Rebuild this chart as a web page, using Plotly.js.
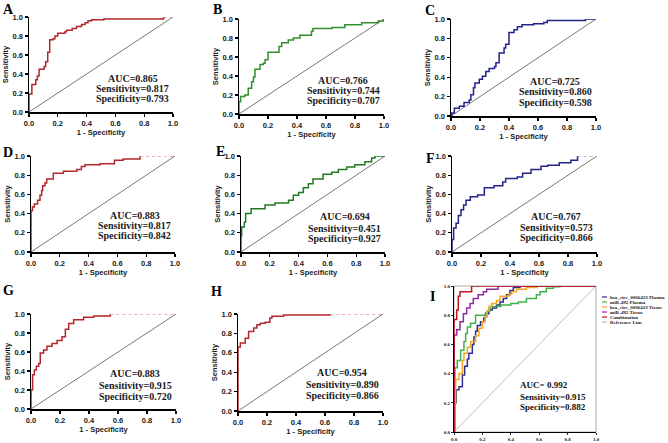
<!DOCTYPE html>
<html><head><meta charset="utf-8">
<script src="https://cdn.plot.ly/plotly-3.0.1.min.js"></script>
<style>body{margin:0;background:#fff;} #chart{width:668px;height:443px;}</style>
</head><body><div id="chart"></div>
<script>
// ---------- data (fpr = 1 - Specificity, tpr = Sensitivity) ----------
const tickVals = [0, 0.2, 0.4, 0.6, 0.8, 1.0];
const tickLabels = ['0.0', '0.2', '0.4', '0.6', '0.8', '1.0'];
const refX = [0, 1];
const refY = [0, 1];

const fprA = [0,0,0.02,0.047,0.058,0.07,0.105,0.116,0.13,0.144,0.167,0.18,0.2,0.25,0.26,0.3,0.33,0.365,0.39,0.41,0.435,0.52,0.935];
const tprA = [0,0.19,0.29,0.34,0.38,0.45,0.48,0.53,0.63,0.76,0.77,0.8,0.83,0.845,0.86,0.88,0.9,0.92,0.94,0.96,0.97,0.98,1.0];
const fprB = [0,0,0.011,0.04,0.064,0.087,0.1,0.11,0.145,0.168,0.18,0.2,0.276,0.294,0.34,0.375,0.42,0.5,0.51,0.64,0.73,0.846,0.96,1];
const tprB = [0,0.13,0.185,0.2,0.27,0.34,0.39,0.47,0.52,0.535,0.57,0.65,0.71,0.75,0.78,0.8,0.83,0.87,0.9,0.91,0.94,0.96,0.98,1];
const fprC = [0,0.005,0.023,0.057,0.09,0.126,0.137,0.155,0.165,0.195,0.217,0.24,0.263,0.3,0.31,0.332,0.366,0.377,0.4,0.435,0.458,0.49,0.57,0.64,0.664,0.927,1];
const tprC = [0,0.03,0.08,0.1,0.14,0.165,0.22,0.29,0.34,0.38,0.41,0.46,0.49,0.51,0.55,0.65,0.7,0.74,0.86,0.89,0.92,0.94,0.95,0.965,0.985,1,1];
const fprD = [0,0,0.01,0.023,0.046,0.0625,0.074,0.081,0.097,0.109,0.155,0.225,0.317,0.35,0.375,0.48,0.58,0.64,0.757];
const tprD = [0,0.43,0.47,0.5,0.54,0.59,0.64,0.69,0.72,0.76,0.82,0.84,0.86,0.89,0.91,0.92,0.955,0.97,1];
const fprE = [0,0,0.005,0.023,0.032,0.07,0.167,0.236,0.33,0.363,0.4,0.433,0.468,0.5,0.57,0.63,0.676,0.734,0.79,0.86,0.907,0.93,1];
const tprE = [0,0.17,0.26,0.31,0.4,0.45,0.49,0.51,0.54,0.59,0.62,0.67,0.71,0.76,0.81,0.83,0.86,0.885,0.91,0.94,0.98,1,1];
const fprF = [0,0,0.011,0.028,0.044,0.062,0.08,0.097,0.126,0.177,0.223,0.29,0.35,0.37,0.45,0.487,0.545,0.614,0.66,0.74,0.82,0.866];
const tprF = [0,0.13,0.25,0.3,0.38,0.44,0.49,0.54,0.575,0.593,0.67,0.69,0.73,0.765,0.78,0.82,0.86,0.893,0.903,0.93,0.955,1];
const fprG = [0,0,0.011,0.023,0.037,0.053,0.064,0.087,0.11,0.145,0.18,0.214,0.237,0.26,0.294,0.363,0.432,0.547];
const tprG = [0,0.2,0.36,0.41,0.45,0.48,0.59,0.62,0.66,0.69,0.72,0.76,0.84,0.9,0.94,0.965,0.98,1];
const fprH = [0,0,0.016,0.05,0.073,0.108,0.13,0.154,0.188,0.22,0.234,0.314,0.635];
const tprH = [0,0.66,0.7,0.75,0.82,0.855,0.89,0.905,0.915,0.96,0.976,0.99,1];

// Panel I
const fprIplasmaCirc = [0,0.005,0.016,0.035,0.059,0.075,0.094,0.105,0.129,0.14,0.152,0.164,0.187,0.21,0.222,0.246,0.27,0.3,0.324,0.347,0.371,0.394,0.418,0.465,1];
const tprIplasmaCirc = [0,0.2,0.29,0.31,0.39,0.45,0.5,0.54,0.6,0.65,0.69,0.73,0.755,0.78,0.81,0.835,0.85,0.87,0.89,0.915,0.94,0.97,0.99,1,1];
const fprIplasmaMir = [0,0.007,0.023,0.047,0.07,0.082,0.094,0.117,0.152,0.222,0.234,0.254,0.33,0.4,0.453,0.51,0.58,0.606,0.65,0.7,0.746,1];
const tprIplasmaMir = [0,0.44,0.49,0.56,0.62,0.675,0.72,0.745,0.8,0.815,0.83,0.86,0.87,0.88,0.89,0.915,0.94,0.96,0.984,0.995,1,1];
const fprItissueCirc = [0,0.005,0.012,0.035,0.059,0.07,0.094,0.117,0.152,0.176,0.2,0.22,0.234,0.246,0.265,0.3,0.324,0.383,0.406,0.44,0.51,0.585,1];
const tprItissueCirc = [0,0.2,0.36,0.4,0.49,0.54,0.58,0.62,0.66,0.71,0.755,0.79,0.83,0.86,0.88,0.9,0.93,0.945,0.96,0.977,0.99,1,1];
const fprItissueMir = [0,0,0.019,0.042,0.066,0.089,0.113,0.136,0.17,0.207,0.23,0.31,1];
const tprItissueMir = [0,0.665,0.7,0.755,0.81,0.85,0.88,0.915,0.94,0.96,0.977,1,1];
const fprIcomb = [0,0,0.019,0.03,0.042,0.124,1];
const tprIcomb = [0,0.77,0.835,0.93,0.96,1,1];

const legendNames = ['hsa_circ_0006423 Plasma','miR-492 Plasma','hsa_circ_0006423 Tissue','miR-492 Tissue','Combination','Reference Line'];

const statsAUC  = ['AUC=0.865','AUC=0.766','AUC=0.725','AUC=0.883','AUC=0.694','AUC=0.767','AUC=0.883','AUC=0.954'];
const statsSens = ['Sensitivity=0.817','Sensitivity=0.744','Sensitivity=0.860','Sensitivity=0.817','Sensitivity=0.451','Sensitivity=0.573','Sensitivity=0.915','Sensitivity=0.890'];
const statsSpec = ['Specificity=0.793','Specificity=0.707','Specificity=0.598','Specificity=0.842','Specificity=0.927','Specificity=0.866','Specificity=0.720','Specificity=0.866'];
const statsI = ['AUC= 0.992','Sensitivity=0.915','Specificity=0.882'];
const panelLetters = ['A','B','C','D','E','F','G','H','I'];

// ---------- layout helpers ----------
const W = 668, H = 443;
const RED = '#b3262b', GREEN = '#2f8f2c', GREEN2 = '#237a22', BLUE = '#23238c';
const RED_T = '#e59a9a', BLUE_T = '#9a9ad8';
const panels = [
  {fpr: fprA, tpr: tprA, color: RED,   tail: RED_T, box: [29,173,17,112],  txt: [0.35,0.245,0.14]},
  {fpr: fprB, tpr: tprB, color: GREEN, tail: null,  box: [239,384,19,114], txt: [0.35,0.245,0.14]},
  {fpr: fprC, tpr: tprC, color: BLUE,  tail: null,  box: [451,596,19,116], txt: [0.36,0.25,0.14]},
  {fpr: fprD, tpr: tprD, color: RED,   tail: RED_T, box: [31,175,156,252], txt: [0.385,0.28,0.175]},
  {fpr: fprE, tpr: tprE, color: GREEN2,tail: null,  box: [241,385,156,252],txt: [0.37,0.25,0.14]},
  {fpr: fprF, tpr: tprF, color: BLUE,  tail: BLUE_T,box: [452,597,156,252],txt: [0.375,0.26,0.155]},
  {fpr: fprG, tpr: tprG, color: RED,   tail: RED_T, box: [31,176,314,409], txt: [0.37,0.245,0.13]},
  {fpr: fprH, tpr: tprH, color: RED,   tail: RED_T, box: [238,383,314,411],txt: [0.395,0.27,0.155]}
];
const boxI = [454,596,286,432];
const letterPos = [[8,9],[217,9],[430,11],[8,152],[220,151],[430,158],[8,290],[216,291],[432,296]];

const data = [];
const layout = {
  width: W, height: H, autosize: false,
  margin: {l:0, r:0, t:0, b:0},
  paper_bgcolor: '#fff', plot_bgcolor: 'rgba(0,0,0,0)',
  showlegend: false,
  annotations: [], shapes: []
};
const tickFont = {family: 'Liberation Sans, Arial, sans-serif', size: 7.5, color: '#1a1a1a', weight: 'bold'};
const titleFont = {family: 'Liberation Sans, Arial, sans-serif', size: 7.5, color: '#1a1a1a', weight: 'bold'};
const statFont = {family: 'Liberation Serif, Times New Roman, serif', size: 10, color: '#1a1a1a', weight: 'bold'};

function axisCommon(domain) {
  return {
    domain: domain, range: [0, 1], tickvals: tickVals, ticktext: tickLabels,
    ticks: 'outside', ticklen: 3, tickwidth: 1.2, tickcolor: '#000',
    showline: true, linewidth: 1.5, linecolor: '#000',
    showgrid: false, zeroline: false, fixedrange: true,
    tickfont: tickFont
  };
}

panels.forEach((p, i) => {
  const n = i + 1;
  const xa = n === 1 ? 'x' : 'x' + n, ya = n === 1 ? 'y' : 'y' + n;
  const [x0, x1, y1, y0] = p.box;
  const xax = axisCommon([x0 / W, x1 / W]);
  xax.anchor = ya;
  xax.title = {text: '1 - Specificity', font: titleFont, standoff: 3};
  const yax = axisCommon([1 - y0 / H, 1 - y1 / H]);
  yax.anchor = xa;
  yax.title = {text: 'Sensitivity', font: titleFont, standoff: 3};
  layout[n === 1 ? 'xaxis' : 'xaxis' + n] = xax;
  layout[n === 1 ? 'yaxis' : 'yaxis' + n] = yax;

  data.push({x: refX, y: refY, xaxis: xa, yaxis: ya, mode: 'lines',
             line: {color: '#555', width: 0.8}, cliponaxis: false, hoverinfo: 'skip'});
  data.push({x: p.fpr, y: p.tpr, xaxis: xa, yaxis: ya, mode: 'lines',
             line: {color: p.color, width: 1.5, shape: 'hv'}, cliponaxis: false});
  if (p.tail) {
    const lx = p.fpr[p.fpr.length - 1], ly = p.tpr[p.tpr.length - 1];
    data.push({x: [lx, 1], y: [ly, 1], xaxis: xa, yaxis: ya, mode: 'lines',
               line: {color: p.tail, width: 1.5, dash: 'dot'}, cliponaxis: false});
  }
  [statsAUC[i], statsSens[i], statsSpec[i]].forEach((t, k) => {
    layout.annotations.push({text: t, xref: xa, yref: ya, x: 0.72, y: p.txt[k],
      xanchor: 'center', yanchor: 'middle', showarrow: false, font: statFont});
  });
});

// Panel I
(function () {
  const [x0, x1, y1, y0] = boxI;
  const smallFont = {family: 'Liberation Serif, Times New Roman, serif', size: 5, color: '#222', weight: 'bold'};
  const xax = axisCommon([x0 / W, x1 / W]);
  xax.anchor = 'y9'; xax.tickfont = smallFont; xax.ticklen = 2; xax.tickwidth = 0.8; xax.linewidth = 1;
  const yax = axisCommon([1 - y0 / H, 1 - y1 / H]);
  yax.anchor = 'x9'; yax.tickfont = smallFont; yax.ticklen = 2; yax.tickwidth = 0.8; yax.linewidth = 1;
  layout.xaxis9 = xax; layout.yaxis9 = yax;
  layout.shapes.push({type: 'rect', xref: 'x9 domain', yref: 'y9 domain', x0: 0, x1: 1, y0: 0, y1: 1,
    line: {color: '#9a9a9a', width: 0.8}, layer: 'below'});
  const cols = ['#2b2f8f', '#3fb34a', '#f5a524', '#8e2c9e', '#c0151d', '#bdbdbd'];
  const series = [[fprIplasmaCirc, tprIplasmaCirc], [fprIplasmaMir, tprIplasmaMir],
                  [fprItissueCirc, tprItissueCirc], [fprItissueMir, tprItissueMir], [fprIcomb, tprIcomb]];
  data.push({x: refX, y: refY, xaxis: 'x9', yaxis: 'y9', mode: 'lines',
             line: {color: cols[5], width: 1}, cliponaxis: false, name: legendNames[5]});
  series.forEach((s, k) => {
    data.push({x: s[0], y: s[1], xaxis: 'x9', yaxis: 'y9', mode: 'lines', name: legendNames[k],
               line: {color: cols[k], width: 1.5, shape: 'hv'}, cliponaxis: false});
  });
  const iy = [0.32, 0.24, 0.17];
  statsI.forEach((t, k) => {
    layout.annotations.push({text: t, xref: 'x9', yref: 'y9', x: 0.45, y: iy[k], xanchor: 'left',
      yanchor: 'middle', showarrow: false,
      font: {family: 'Liberation Serif, Times New Roman, serif', size: 9, color: '#111', weight: 'bold'}});
  });
  // legend (text + swatches)
  legendNames.forEach((nm, k) => {
    const yp = 297 + k * 5;
    layout.shapes.push({type: 'line', xref: 'paper', yref: 'paper', x0: 602 / W, x1: 607 / W,
      y0: 1 - yp / H, y1: 1 - yp / H, line: {color: cols[k], width: 1.2}});
    layout.annotations.push({text: nm, xref: 'paper', yref: 'paper', x: 607.5 / W, y: 1 - yp / H,
      xanchor: 'left', yanchor: 'middle', showarrow: false,
      font: {family: 'Liberation Serif, Times New Roman, serif', size: 5, color: '#222', weight: 'bold'}});
  });
})();

panelLetters.forEach((L, i) => {
  layout.annotations.push({text: L, xref: 'paper', yref: 'paper', x: letterPos[i][0] / W, y: 1 - letterPos[i][1] / H,
    xanchor: 'center', yanchor: 'middle', showarrow: false,
    font: {family: 'Liberation Serif, Times New Roman, serif', size: 14, color: '#000', weight: 'bold'}});
});

Plotly.newPlot('chart', data, layout, {staticPlot: true, displayModeBar: false});
</script>
</body></html>
